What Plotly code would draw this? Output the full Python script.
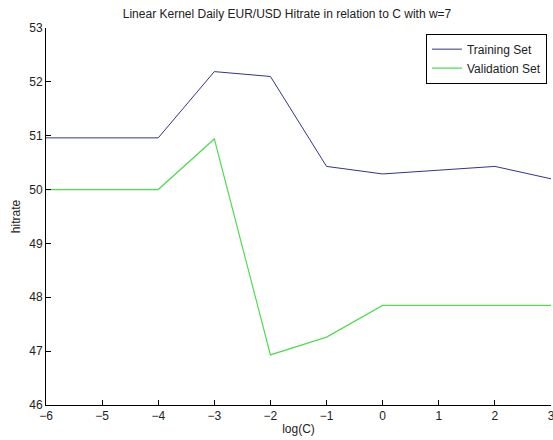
import plotly.graph_objects as go

log_c = [-6, -5, -4, -3, -2, -1, 0, 1, 2, 3]
training = [50.96, 50.96, 50.96, 52.19, 52.10, 50.43, 50.29, 50.36, 50.43, 50.20]
validation = [50.0, 50.0, 50.0, 50.94, 46.93, 47.26, 47.85, 47.85, 47.85, 47.85]
x_ticks = [-6, -5, -4, -3, -2, -1, 0, 1, 2, 3]
y_ticks = [46, 47, 48, 49, 50, 51, 52, 53]

FAM = "Liberation Sans, Arial, sans-serif"
font = dict(family=FAM, size=12, color="#222222")

fig = go.Figure()
fig.add_trace(go.Scatter(x=log_c, y=training, mode="lines", name="Training Set",
                         line=dict(color="#34348c", width=1)))
fig.add_trace(go.Scatter(x=log_c, y=validation, mode="lines", name="Validation Set",
                         line=dict(color="#4fdc4f", width=1.2)))

fig.update_layout(
    width=553, height=440,
    margin=dict(l=46, r=2, t=28, b=35),
    paper_bgcolor="white", plot_bgcolor="white",
    font=font,
    title=dict(text="Linear Kernel Daily EUR/USD Hitrate in relation to C with w=7",
               x=0.519, xanchor="center", y=1 - 14 / 440, yanchor="middle", yref="container",
               font=dict(family=FAM, size=12, color="#222222")),
    showlegend=True,
    legend=dict(x=0.992, xanchor="right", y=0.985, yanchor="top",
                bordercolor="black", borderwidth=1, bgcolor="white",
                font=dict(family=FAM, size=12, color="#222222"),
                tracegroupgap=0, itemwidth=30),
    xaxis=dict(range=[-6, 3], tickvals=x_ticks, ticks="inside", ticklen=5, tickwidth=1,
               tickcolor="black", showline=True, linecolor="black", linewidth=1,
               showgrid=False, zeroline=False, mirror=False, ticklabeloverflow="allow",
               automargin=False,
               title=dict(text="log(C)", standoff=2, font=dict(family=FAM, size=12))),
    yaxis=dict(range=[46, 53], tickvals=y_ticks, ticks="inside", ticklen=5, tickwidth=1,
               tickcolor="black", showline=True, linecolor="black", linewidth=1,
               showgrid=False, zeroline=False, mirror=False, ticklabeloverflow="allow",
               automargin=False,
               title=dict(text="hitrate", standoff=6, font=dict(family=FAM, size=12))),
)

fig.write_html("out.html")
